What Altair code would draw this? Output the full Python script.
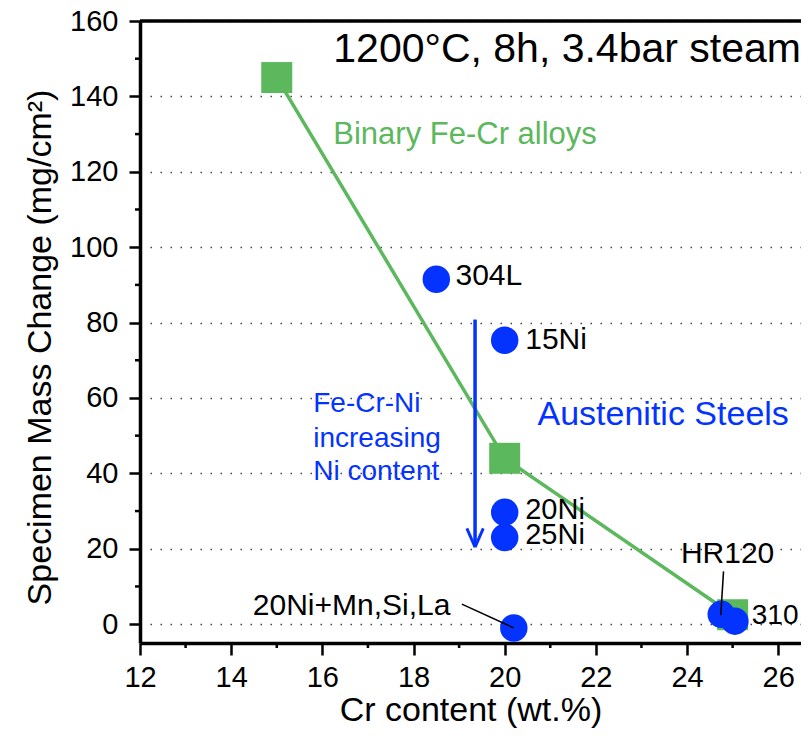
import altair as alt
import pandas as pd

# ---- data ----
binary_cr = [15.0, 20.0, 25.0]
binary_mass = [145.0, 44.0, 2.5]

steel_names = ["304L", "15Ni", "20Ni", "25Ni", "20Ni+Mn,Si,La", "HR120", "310"]
steel_cr = [18.5, 20.0, 20.0, 20.0, 20.2, 24.75, 25.05]
steel_mass = [91.5, 75.3, 29.7, 23.0, -1.0, 2.6, 0.8]

x_major = [12, 14, 16, 18, 20, 22, 24, 26]
x_minor = [13, 15, 17, 19, 21, 23, 25]
y_major = [0, 20, 40, 60, 80, 100, 120, 140, 160]
y_minor = [10, 30, 50, 70, 90, 110, 130, 150]

BLUE = "#0433ff"
GREEN = "#5cb85c"
FONT = "Liberation Sans"
W, H = 661, 622

binary = pd.DataFrame({"cr": binary_cr, "mass": binary_mass})
steels = pd.DataFrame({"cr": steel_cr, "mass": steel_mass, "name": steel_names})

xs = alt.Scale(domain=[12, 26.5], nice=False, zero=False)
ys = alt.Scale(domain=[-5, 160], nice=False, zero=False)

X = alt.X("cr:Q", scale=xs, title="Cr content (wt.%)",
          axis=alt.Axis(values=x_major, grid=False, tickSize=12, labelPadding=8,
                        titlePadding=1, titleFontSize=34,
                        labelFlush=False, labelOverlap=False))
Y = alt.Y("mass:Q", scale=ys, title="Specimen Mass Change (mg/cm²)",
          axis=alt.Axis(values=y_major, grid=True, gridDash=[1.5, 8.5], gridColor="#444444",
                        gridWidth=1.5, tickSize=11, labelPadding=11, titlePadding=12,
                        titleFontSize=34, titleY=326, labelFlush=False, labelOverlap=False))


def pt(x, y):
    return pd.DataFrame({"cr": [x], "mass": [y]})


def text(x, y, label, size, color="black", align="left"):
    return alt.Chart(pt(x, y)).mark_text(
        text=label, font=FONT, fontSize=size, color=color, align=align, baseline="middle"
    ).encode(x="cr:Q", y="mass:Q")


def seg(x1, y1, x2, y2, color, width):
    df = pd.DataFrame({"cr": [x1], "mass": [y1], "cr2": [x2], "mass2": [y2]})
    return alt.Chart(df).mark_rule(color=color, strokeWidth=width).encode(
        x="cr:Q", y="mass:Q", x2="cr2:Q", y2="mass2:Q")


green_line = alt.Chart(binary).mark_line(color=GREEN, strokeWidth=3.5).encode(x=X, y=Y)

top_border = alt.Chart(pt(12, 160)).mark_rule(color="black", strokeWidth=3.5).encode(
    y="mass:Q", x=alt.value(0), x2=alt.value(W))

xminor = alt.Chart(pd.DataFrame({"cr": x_minor})).mark_rule(color="black", strokeWidth=2.5).encode(
    x="cr:Q", y=alt.value(H), y2=alt.value(H + 5))
yminor = alt.Chart(pd.DataFrame({"mass": y_minor})).mark_rule(color="black", strokeWidth=2.5).encode(
    y="mass:Q", x=alt.value(-5), x2=alt.value(0))

squares = alt.Chart(binary).mark_point(shape="square", filled=True, size=961, color=GREEN,
                                       opacity=1, strokeWidth=0).encode(x="cr:Q", y="mass:Q")

# arrow
arrow = [
    seg(19.35, 80.8, 19.35, 20.8, BLUE, 3.5),
    seg(19.17, 25.4, 19.35, 20.4, BLUE, 3),
    seg(19.53, 25.4, 19.35, 20.4, BLUE, 3),
]

circles = alt.Chart(steels).mark_circle(size=755, color=BLUE, opacity=1).encode(x="cr:Q", y="mass:Q")

leaders = [
    seg(19.06, 5.3, 20.2, -1.0, "black", 1.5),
    seg(24.8, 14.0, 24.74, 2.4, "black", 1.5),
]

texts = [
    text(16.24, 152.3, "1200°C, 8h, 3.4bar steam", 41),
    text(16.24, 129.8, "Binary Fe-Cr alloys", 31, GREEN),
    text(20.72, 55.6, "Austenitic Steels", 34, BLUE),
    text(15.8, 58.3, "Fe-Cr-Ni", 28, BLUE),
    text(15.8, 49.0, "increasing", 28, BLUE),
    text(15.8, 40.3, "Ni content", 28, BLUE),
    text(18.92, 92.4, steel_names[0], 30),
    text(20.45, 75.5, steel_names[1], 30),
    text(20.45, 30.4, steel_names[2], 29),
    text(20.45, 23.6, steel_names[3], 29),
    text(18.81, 4.8, steel_names[4], 30, align="right"),
    text(24.89, 18.5, steel_names[5], 30, align="center"),
    text(25.42, 2.1, steel_names[6], 28),
]

chart = alt.layer(
    green_line, top_border, xminor, yminor, squares, *arrow, circles, *leaders, *texts
).properties(
    width=W, height=H,
    autosize=alt.AutoSizeParams(type="none"),
    padding={"left": 132, "top": 13, "right": 0, "bottom": 85},
).configure_axis(
    domainColor="black", domainWidth=3.5, tickColor="black", tickWidth=2.5,
    labelFont=FONT, labelFontSize=29, labelColor="black",
    titleFont=FONT, titleFontWeight="normal", titleColor="black",
).configure_view(stroke=None)

chart.save("out.html", embed_options={"renderer": "svg", "actions": False})
